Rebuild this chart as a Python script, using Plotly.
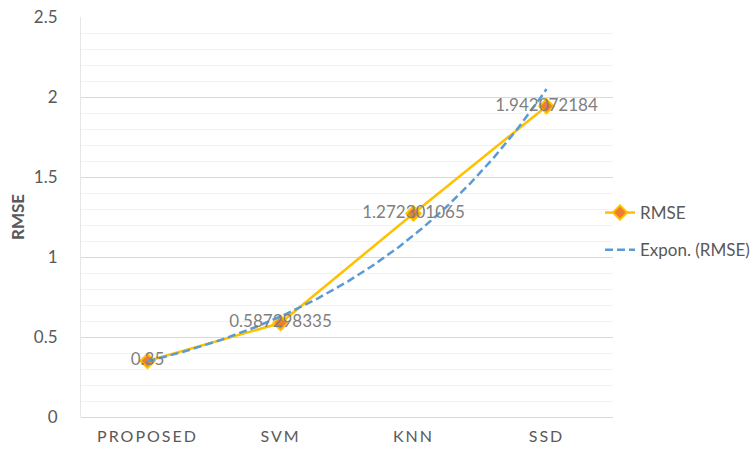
import numpy as np
import plotly.graph_objects as go

# Data
categories = ["PROPOSED", "SVM", "KNN", "SSD"]
rmse = [0.35, 0.587298335, 1.272301065, 1.942072184]
y_ticks = [0, 0.5, 1, 1.5, 2, 2.5]

x_pos = np.arange(1, len(categories) + 1)

# Exponential trendline (least squares on log values), as a spreadsheet would fit it
b, ln_a = np.polyfit(x_pos, np.log(rmse), 1)
x_fit = np.linspace(x_pos[0], x_pos[-1], 200)
y_fit = np.exp(ln_a) * np.exp(b * x_fit)

FONT = "Lato"
GOLD = "#FFC000"
ORANGE = "#ED7D31"
BLUE = "#5B9BD5"

fig = go.Figure()

fig.add_trace(go.Scatter(
    x=x_pos, y=rmse, mode="lines+markers", name="RMSE",
    legendgroup="a",
    line=dict(color=GOLD, width=2.5),
    marker=dict(symbol="diamond", size=11, color=ORANGE,
                line=dict(color=GOLD, width=2)),
    hoverinfo="skip",
))

fig.add_trace(go.Scatter(
    x=x_fit, y=y_fit, mode="lines", name="Expon. (RMSE)",
    legendgroup="b",
    line=dict(color=BLUE, width=2.5, dash="8px,4px"),
    hoverinfo="skip",
))

# Data labels centred on each point
fig.add_trace(go.Scatter(
    x=x_pos, y=rmse, mode="text",
    text=[f"{v:g}" if len(f"{v:g}") < 5 else f"{v:.9f}" for v in rmse],
    textposition="middle center",
    textfont=dict(family=FONT, size=17, color="#7F7F7F"),
    showlegend=False, hoverinfo="skip",
))

fig.update_layout(
    width=756, height=451,
    margin=dict(l=81, r=143, t=17, b=34, autoexpand=False),
    paper_bgcolor="white", plot_bgcolor="white",
    font=dict(family=FONT, size=17, color="#595959"),
    showlegend=True,
    legend=dict(
        x=0.9756, y=0.555, xanchor="left", yanchor="top",
        bgcolor="rgba(0,0,0,0)", tracegroupgap=12,
        font=dict(family=FONT, size=17, color="#595959"),
    ),
    xaxis=dict(
        range=[0.5, 4.5], tickmode="array", tickvals=list(x_pos),
        ticktext=categories, showgrid=False, zeroline=False,
        showline=False, ticks="", ticklabelstandoff=8, automargin=False,
        tickfont=dict(family=FONT, size=16, color="#595959"),
    ),
    yaxis=dict(
        range=[0, 2.5], tickmode="array", tickvals=y_ticks,
        ticktext=[f"{v:g}" for v in y_ticks],
        showgrid=True, gridcolor="#D9D9D9", gridwidth=1,
        minor=dict(dtick=0.1, showgrid=True, gridcolor="#F2F2F2", gridwidth=1),
        zeroline=True, zerolinecolor="#D9D9D9", zerolinewidth=1,
        showline=True, linecolor="#E6E6E6", linewidth=1,
        ticks="", ticklabelstandoff=19, automargin=False,
        tickfont=dict(family=FONT, size=17, color="#595959"),
        title=dict(text="<b>RMSE</b>", standoff=4,
                   font=dict(family=FONT, size=17, color="#595959")),
    ),
)

# Wide letter spacing on the category labels
post = """
var s = document.createElement('style');
s.textContent = '.xtick text { letter-spacing: 2px; }';
document.head.appendChild(s);
"""
fig.write_html("out.html", post_script=post)
